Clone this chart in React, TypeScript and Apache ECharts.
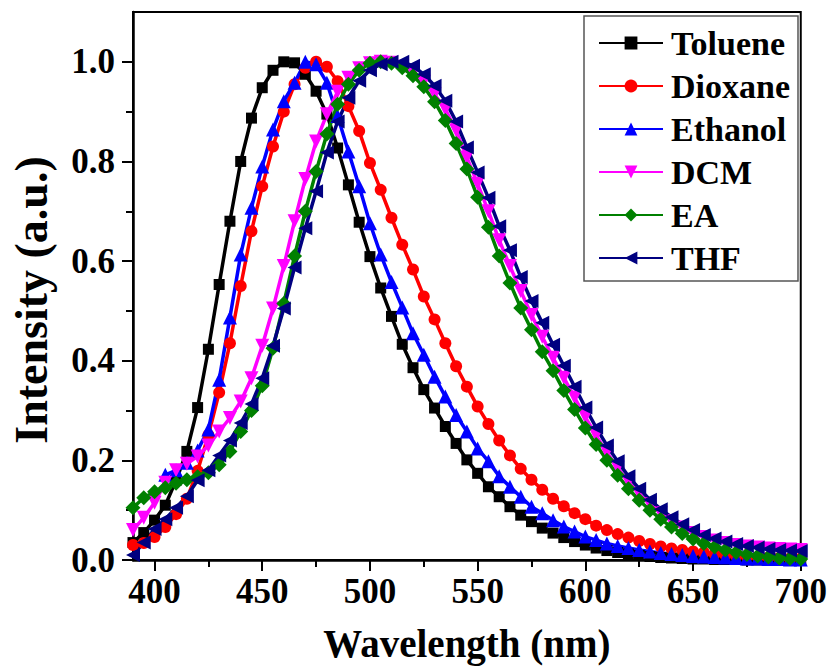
import React, { useEffect, useRef } from "react";
import * as echarts from "echarts";

const WAVELENGTHS = [
  390, 395, 400, 405, 410, 415, 420, 425, 430, 435,
  440, 445, 450, 455, 460, 465, 470, 475, 480, 485,
  490, 495, 500, 505, 510, 515, 520, 525, 530, 535,
  540, 545, 550, 555, 560, 565, 570, 575, 580, 585,
  590, 595, 600, 605, 610, 615, 620, 625, 630, 635,
  640, 645, 650, 655, 660, 665, 670, 675, 680, 685,
  690, 695, 700,
];

const TOLUENE = [
  0.035, 0.055, 0.08, 0.11, 0.16, 0.218, 0.306, 0.423, 0.553, 0.68,
  0.8, 0.887, 0.948, 0.983, 1.0, 0.998, 0.975, 0.941, 0.895, 0.827,
  0.753, 0.678, 0.609, 0.546, 0.489, 0.433, 0.386, 0.342, 0.305, 0.268,
  0.234, 0.201, 0.174, 0.147, 0.127, 0.107, 0.09, 0.077, 0.064, 0.054,
  0.045, 0.037, 0.03, 0.024, 0.019, 0.015, 0.012, 0.009, 0.007, 0.005,
  0.004, 0.003, 0.002, 0.002, 0.001, 0.001, 0.001, 0, 0, 0,
  0, 0, 0,
];

const DIOXANE = [
  0.03, 0.034, 0.046, 0.066, 0.092, 0.123, 0.179, 0.251, 0.336, 0.435,
  0.55, 0.66, 0.75, 0.83, 0.9, 0.955, 0.988, 1.0, 0.99, 0.961,
  0.911, 0.861, 0.797, 0.743, 0.687, 0.633, 0.583, 0.529, 0.483, 0.435,
  0.389, 0.348, 0.308, 0.273, 0.24, 0.21, 0.183, 0.161, 0.141, 0.123,
  0.108, 0.094, 0.082, 0.069, 0.06, 0.052, 0.045, 0.038, 0.032, 0.027,
  0.023, 0.02, 0.017, 0.015, 0.012, 0.01, 0.008, 0.007, 0.006, 0.005,
  0.004, 0.003, 0.003,
];

const ETHANOL = [
  null, null, null, 0.171, 0.18, 0.195, 0.22, 0.262, 0.362, 0.487,
  0.613, 0.707, 0.79, 0.864, 0.921, 0.958, 1.0, 0.995, 0.958, 0.891,
  0.82, 0.75, 0.676, 0.613, 0.558, 0.507, 0.455, 0.412, 0.368, 0.328,
  0.291, 0.258, 0.224, 0.198, 0.168, 0.147, 0.127, 0.107, 0.094, 0.08,
  0.067, 0.057, 0.047, 0.04, 0.033, 0.028, 0.024, 0.02, 0.017, 0.014,
  0.012, 0.01, 0.008, 0.007, 0.006, 0.005, 0.004, 0.003, 0.003, 0.002,
  0.002, 0.001, 0.001,
];

const DCM = [
  0.06, 0.085, 0.115, 0.155, 0.18, 0.193, 0.208, 0.23, 0.258, 0.285,
  0.318, 0.365, 0.43, 0.505, 0.59, 0.68, 0.765, 0.84, 0.895, 0.94,
  0.968, 0.987, 0.997, 1.0, 0.998, 0.99, 0.978, 0.96, 0.935, 0.905,
  0.862, 0.808, 0.755, 0.7, 0.642, 0.59, 0.54, 0.492, 0.448, 0.406,
  0.366, 0.326, 0.287, 0.25, 0.216, 0.185, 0.157, 0.133, 0.112, 0.094,
  0.078, 0.065, 0.054, 0.046, 0.039, 0.034, 0.03, 0.027, 0.025, 0.023,
  0.022, 0.021, 0.02,
];

const EA = [
  0.105, 0.125, 0.137, 0.145, 0.154, 0.161, 0.167, 0.175, 0.191, 0.218,
  0.258, 0.3, 0.35, 0.425, 0.515, 0.61, 0.7, 0.78, 0.855, 0.915,
  0.955, 0.983, 0.997, 1.0, 0.997, 0.988, 0.972, 0.95, 0.92, 0.882,
  0.836, 0.785, 0.728, 0.668, 0.61, 0.556, 0.506, 0.462, 0.418, 0.38,
  0.34, 0.302, 0.265, 0.232, 0.2, 0.17, 0.143, 0.12, 0.1, 0.082,
  0.066, 0.053, 0.042, 0.033, 0.026, 0.02, 0.015, 0.011, 0.008, 0.006,
  0.004, 0.003, 0.002,
];

const THF = [
  0.01, 0.035, 0.062, 0.082, 0.105, 0.128, 0.16, 0.18, 0.21, 0.24,
  0.275, 0.313, 0.365, 0.43, 0.505, 0.587, 0.666, 0.74, 0.818, 0.88,
  0.928, 0.962, 0.983, 0.995, 1.0, 1.0, 0.992, 0.975, 0.952, 0.922,
  0.88, 0.828, 0.778, 0.727, 0.67, 0.622, 0.568, 0.52, 0.476, 0.432,
  0.39, 0.348, 0.306, 0.266, 0.23, 0.198, 0.168, 0.143, 0.121, 0.102,
  0.086, 0.072, 0.06, 0.05, 0.043, 0.037, 0.032, 0.028, 0.025, 0.022,
  0.02, 0.019, 0.018,
];

const X_MAJOR = [400, 450, 500, 550, 600, 650, 700];
const X_MINOR = [425, 475, 525, 575, 625, 675];
const Y_MAJOR = [0, 0.2, 0.4, 0.6, 0.8, 1.0];
const Y_MINOR = [0.1, 0.3, 0.5, 0.7, 0.9];

const X_TITLE = "Wavelength (nm)";
const Y_TITLE = "Intensity (a.u.)";

const SERIES_DEFS = [
  { name: "Toluene", values: TOLUENE, color: "#000000", symbol: "rect", size: 11, rotate: 0 },
  { name: "Dioxane", values: DIOXANE, color: "#ff0000", symbol: "circle", size: 12, rotate: 0 },
  { name: "Ethanol", values: ETHANOL, color: "#0000ff", symbol: "triangle", size: 14, rotate: 0 },
  { name: "DCM", values: DCM, color: "#ff00ff", symbol: "triangle", size: 14, rotate: 180 },
  { name: "EA", values: EA, color: "#008000", symbol: "diamond", size: 15, rotate: 0 },
  { name: "THF", values: THF, color: "#000080", symbol: "triangle", size: 14, rotate: 90 },
];

const FONT = "Liberation Serif";

export default function App() {
  const ref = useRef<HTMLDivElement>(null);

  useEffect(() => {
    if (!ref.current) return;
    const chart = echarts.init(ref.current, null, { renderer: "svg" });

    const labelStyle = {
      fontFamily: FONT,
      fontWeight: "bold",
      fontSize: 35,
      color: "#000",
    };
    const tickLine = { color: "#000", width: 2 };

    const series = SERIES_DEFS.map((s) => ({
      name: s.name,
      type: "line",
      xAxisIndex: 0,
      yAxisIndex: 0,
      data: WAVELENGTHS.map((w, i) => [w, s.values[i]]).filter((p) => p[1] !== null),
      symbol: s.symbol,
      symbolSize: s.size,
      symbolRotate: s.rotate,
      showAllSymbol: true,
      lineStyle: { color: s.color, width: 3.5 },
      itemStyle: { color: s.color, borderWidth: 0 },
      emphasis: { disabled: true },
      z: 2,
    }));

    chart.setOption({
      animation: false,
      textStyle: { fontFamily: FONT },
      grid: {
        left: 133,
        right: 25,
        top: 12,
        bottom: 109,
        show: true,
        borderColor: "#000",
        borderWidth: 2,
        backgroundColor: "transparent",
      },
      legend: {
        show: true,
        orient: "vertical",
        left: 584,
        top: 16,
        padding: [10, 8, 6, 14],
        itemWidth: 64,
        itemHeight: 16,
        itemGap: 9,
        selectedMode: false,
        borderColor: "#555",
        borderWidth: 1.5,
        backgroundColor: "#fff",
        textStyle: {
          fontFamily: FONT,
          fontWeight: "bold",
          fontSize: 34,
          lineHeight: 34,
          color: "#000",
          padding: [0, 0, 0, 3],
        },
        data: SERIES_DEFS.map((s) => s.name),
      },
      xAxis: [
        {
          type: "value",
          min: 390,
          max: 700,
          position: "bottom",
          axisLine: { show: true, onZero: false, lineStyle: { color: "#000", width: 2.5 } },
          axisTick: { show: true, inside: false, length: 11, customValues: X_MAJOR, lineStyle: tickLine },
          axisLabel: { show: true, customValues: X_MAJOR, margin: 14, ...labelStyle },
          splitLine: { show: false },
          name: X_TITLE,
          nameLocation: "middle",
          nameGap: 64,
          nameTextStyle: { fontFamily: FONT, fontWeight: "bold", fontSize: 39, color: "#000" },
        },
        {
          type: "value",
          min: 390,
          max: 700,
          position: "bottom",
          axisLine: { show: false },
          axisTick: { show: true, inside: false, length: 7, customValues: X_MINOR, lineStyle: tickLine },
          axisLabel: { show: false },
          splitLine: { show: false },
        },
      ],
      yAxis: [
        {
          type: "value",
          min: 0,
          max: 1.1,
          position: "left",
          axisLine: { show: true, onZero: false, lineStyle: { color: "#000", width: 2.5 } },
          axisTick: { show: true, inside: false, length: 11, customValues: Y_MAJOR, lineStyle: tickLine },
          axisLabel: {
            show: true,
            customValues: Y_MAJOR,
            margin: 18,
            formatter: (v: number) => v.toFixed(1),
            ...labelStyle,
          },
          splitLine: { show: false },
        },
        {
          type: "value",
          min: 0,
          max: 1.1,
          position: "left",
          axisLine: { show: false },
          axisTick: { show: true, inside: false, length: 7, customValues: Y_MINOR, lineStyle: tickLine },
          axisLabel: { show: false },
          splitLine: { show: false },
        },
      ],
      graphic: [
        {
          type: "text",
          x: 31,
          y: 300,
          rotation: Math.PI / 2,
          style: {
            text: Y_TITLE,
            fill: "#000",
            font: `bold 46px ${FONT}`,
            align: "center",
            verticalAlign: "middle",
            textAlign: "center",
            textVerticalAlign: "middle",
          },
        },
      ],
      series,
    });

    return () => chart.dispose();
  }, []);

  return (
    <div
      ref={ref}
      style={{ position: "fixed", left: 0, top: 0, width: 830, height: 669, background: "#fff" }}
    />
  );
}
